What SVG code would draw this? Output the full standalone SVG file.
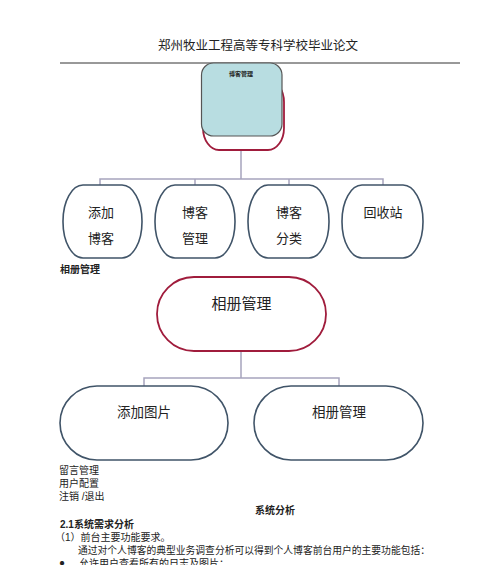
<svg xmlns="http://www.w3.org/2000/svg" width="500" height="565" viewBox="0 0 500 565">
<style>
text{font-family:"Liberation Sans","Noto Sans CJK SC",sans-serif;fill:#222}
.conn{fill:none;stroke:#a6a4bd;stroke-width:1.5}
.box{fill:#fff;stroke:#405468;stroke-width:1.6}
.red{fill:#fff;stroke:#a01c3c;stroke-width:1.8}
.t13{font-size:13px;text-anchor:middle}
.t10{font-size:10px}
.b{font-weight:bold}
</style>
<rect width="500" height="565" fill="#fff"/>
<text x="258" y="50" font-size="12.5" text-anchor="middle">郑州牧业工程高等专科学校毕业论文</text>
<line x1="60" y1="63" x2="460" y2="63" stroke="#333" stroke-width="1"/>

<g id="connectors">
<path class="conn" d="M241 150V179M100 186V179H383V186M195 179V186M289 179V186"/>
<path class="conn" d="M241 351V378M144 386V378H339V386"/>
</g>

<g id="node-blog">
<rect class="red" x="203" y="80" width="81" height="70" rx="16" ry="22"/>
<rect x="201.5" y="63" width="80.5" height="73" rx="12" ry="12" fill="#b8dde1" stroke="#555" stroke-width="1.2"/>
<text x="241" y="76" font-size="6" font-weight="bold" text-anchor="middle">博客管理</text>
</g>
<g id="node-add-blog">
<rect class="box" x="63" y="185" width="79" height="73" rx="20" ry="36"/>
<text class="t13" x="101" y="217">添加</text>
<text class="t13" x="101" y="243">博客</text>
</g>
<g id="node-manage-blog">
<rect class="box" x="155" y="185" width="80" height="73" rx="20" ry="36"/>
<text class="t13" x="195" y="217">博客</text>
<text class="t13" x="195" y="243">管理</text>
</g>
<g id="node-category">
<rect class="box" x="248" y="185" width="81" height="73" rx="20" ry="36"/>
<text class="t13" x="289" y="217">博客</text>
<text class="t13" x="289" y="243">分类</text>
</g>
<g id="node-recycle">
<rect class="box" x="342" y="185" width="81" height="73" rx="20" ry="36"/>
<text class="t13" x="383" y="217">回收站</text>
</g>

<text class="t10 b" x="60" y="273">相册管理</text>

<g id="node-album">
<rect class="red" x="157" y="277" width="169" height="74" rx="37" ry="37"/>
<text x="241.5" y="309" font-size="15" text-anchor="middle">相册管理</text>
</g>
<g id="node-add-pic">
<rect class="box" x="60" y="386" width="168" height="74" rx="37" ry="37"/>
<text x="144" y="417" font-size="13.5" text-anchor="middle">添加图片</text>
</g>
<g id="node-album-manage">
<rect class="box" x="254" y="386" width="169" height="74" rx="37" ry="37"/>
<text x="339" y="417" font-size="13.5" text-anchor="middle">相册管理</text>
</g>

<text class="t10" x="59" y="474">留言管理</text>
<text class="t10" x="59" y="487">用户配置</text>
<text class="t10" x="59" y="500">注销 /退出</text>
<text class="t10 b" x="275" y="514" text-anchor="middle">系统分析</text>
<text class="t10 b" x="60" y="528">2.1系统需求分析</text>
<text class="t10" x="55" y="541">（1）前台主要功能要求。</text>
<text class="t10" x="78" y="554" textLength="352" lengthAdjust="spacingAndGlyphs">通过对个人博客的典型业务调查分析可以得到个人博客前台用户的主要功能包括：</text>
<text class="t10" x="59" y="566">●</text>
<text class="t10" x="79" y="567">允许用户查看所有的日志及图片；</text>
</svg>
